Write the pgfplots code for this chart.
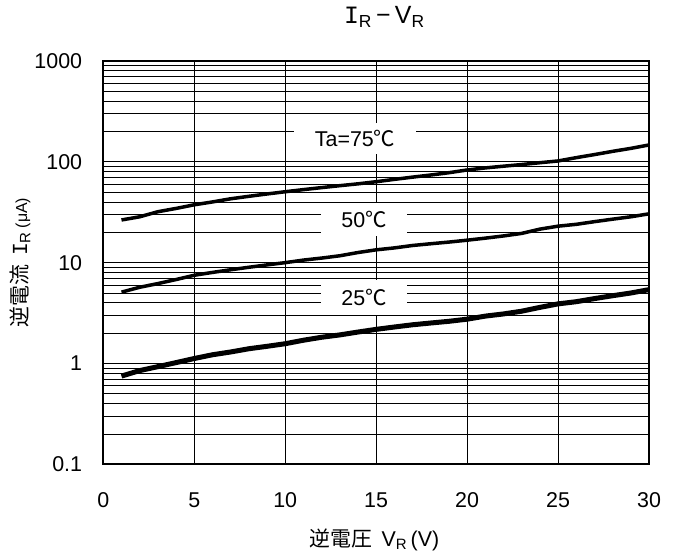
\documentclass[border=0pt]{standalone}
\usepackage{fontspec}
\setmainfont{Liberation Sans}
\newfontfamily\jp{Noto Sans CJK JP}
\newfontfamily\mono{Liberation Mono}
\usepackage{pgfplots}
\pgfplotsset{compat=1.18}
\newcommand\lf{\fontsize{21.5}{24}\selectfont}
\begin{document}
\begin{tikzpicture}
\begin{axis}[
  name=ax,
  at={(0,0)}, anchor=south west,
  scale only axis,
  width=545.7bp, height=403.3bp,
  ymode=log, log basis y=10,
  xmin=0, xmax=30, ymin=0.1, ymax=1000,
  xtick={0,5,10,15,20,25,30},
  xticklabels={0,5,10,15,20,25,30},
  ytick={0.1,1,10,100,1000},
  yticklabels={0.1,1,10,100,1000},
  minor ytick={0.2,0.3,0.4,0.5,0.6,0.7,0.8,0.9,2,3,4,5,6,7,8,9,20,30,40,50,60,70,80,90,200,300,400,500,600,700,800,900},
  /pgf/number format/assume math mode=true,
  major tick length=0pt, minor tick length=0pt,
  xmajorgrids, ymajorgrids, yminorgrids,
  major grid style={black, line width=0.8bp},
  minor grid style={black, line width=0.8bp},
  axis line style={black, line width=1.8bp},
  tick label style={font=\lf, black},
  yticklabel style={inner sep=0pt, anchor=east, xshift=-21bp},
  xticklabel style={inner sep=0pt, anchor=north, yshift=-28bp},
  title={\fontsize{25}{28}\selectfont {\mono I}\textsubscript{R}\,−\,V\textsubscript{R}},
  title style={at={(axis description cs:0.515,1.094)}, anchor=center, inner sep=0pt},
  xlabel={{\jp\fontsize{21}{24}\selectfont 逆電圧}\hspace{0.9em}{\lf V\textsubscript{R}\,(V)}},
  xlabel style={at={(axis description cs:0.497,-0.1877)}, anchor=center, inner sep=0pt},
  ylabel={{\jp\fontsize{21}{24}\selectfont 逆電流}\hspace{0.9em}{\lf{\mono I}\textsubscript{R}\,{\fontsize{16}{18}\selectfont (μA)}}},
  ylabel style={at={(axis description cs:-0.1527,0.5)}, anchor=center, inner sep=0pt},
  clip=false,
]
\addplot[black, line width=3.5bp, line join=round] coordinates {
(1,26.5) (2,28.5) (3,32) (4,34.5) (5,37.5) (6,40) (7,43) (8,45.5) (9,48) (10,50.5)
(11,53) (12,55.5) (13,58) (14,60.5) (15,63.5) (16,67) (17,70.5) (18,74) (19,78) (20,83)
(21,87) (22,90.5) (23,94) (24,98) (25,102) (26,110) (27,118) (28,127) (29,136) (30,147)
};
\addplot[black, line width=3.5bp, line join=round] coordinates {
(1,5.1) (2,5.7) (3,6.2) (4,6.8) (5,7.5) (6,8.0) (7,8.5) (8,9.0) (9,9.5) (10,10.0)
(11,10.6) (12,11.1) (13,11.7) (14,12.6) (15,13.4) (16,14.0) (17,14.8) (18,15.4) (19,16.0) (20,16.7)
(21,17.5) (22,18.4) (23,19.5) (24,21.5) (25,23) (26,24) (27,25.5) (28,27) (29,28.5) (30,30.5)
};
\addplot[black, line width=5bp, line join=round] coordinates {
(1,0.75) (2,0.85) (3,0.93) (4,1.02) (5,1.12) (6,1.22) (7,1.30) (8,1.40) (9,1.48) (10,1.57)
(11,1.70) (12,1.82) (13,1.92) (14,2.05) (15,2.18) (16,2.30) (17,2.42) (18,2.52) (19,2.62) (20,2.75)
(21,2.95) (22,3.1) (23,3.3) (24,3.6) (25,3.9) (26,4.1) (27,4.4) (28,4.7) (29,5.0) (30,5.4)
};
\node[fill=white, inner sep=0pt, minimum width=122bp, minimum height=31bp, font=\lf] at (axis cs:13.84,170.6) {Ta=75{\jp ℃}};
\node[fill=white, inner sep=0pt, minimum width=86bp, minimum height=33bp, font=\lf] at (axis cs:14.33,26.8) {50{\jp ℃}};
\node[fill=white, inner sep=0pt, minimum width=86bp, minimum height=35bp, font=\lf] at (axis cs:14.33,4.52) {25{\jp ℃}};
\end{axis}
\path[use as bounding box] ([shift={(-103.3bp,-94.7bp)}]ax.south west) rectangle ([shift={(29bp,61bp)}]ax.north east);
\end{tikzpicture}
\end{document}
